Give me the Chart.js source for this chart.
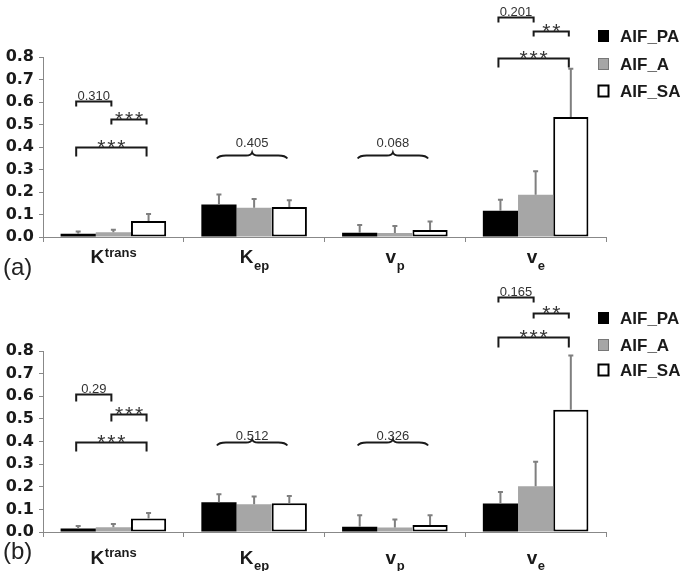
<!DOCTYPE html>
<html>
<head>
<meta charset="utf-8">
<script src="https://cdn.jsdelivr.net/npm/chart.js@4"></script>
<style>
  body { margin: 0; background: #fff; }
  canvas { display: block; }
</style>
</head>
<body>
<canvas id="chartA" width="685" height="286"></canvas>
<canvas id="chartB" width="685" height="285"></canvas>
<script>
// categories and series
const categories = ['Ktrans', 'Kep', 'vp', 've'];
const catMain = ['K', 'K', 'v', 'v'];
const catScript = ['trans', 'ep', 'p', 'e'];
const catSuper = [true, false, false, false];
const seriesNames = ['AIF_PA', 'AIF_A', 'AIF_SA'];
const seriesColors = ['#000000', '#a6a6a6', '#ffffff'];

// panel (a) means and SD
const meanPA_a = [0.015, 0.145, 0.019, 0.117];
const meanA_a  = [0.021, 0.130, 0.018, 0.188];
const meanSA_a = [0.071, 0.133, 0.031, 0.533];
const sdPA_a = [0.010, 0.044, 0.034, 0.049];
const sdA_a  = [0.011, 0.039, 0.031, 0.104];
const sdSA_a = [0.031, 0.030, 0.038, 0.215];

// panel (b) means and SD
const meanPA_b = [0.016, 0.131, 0.023, 0.126];
const meanA_b  = [0.021, 0.123, 0.020, 0.202];
const meanSA_b = [0.060, 0.127, 0.031, 0.540];
const sdPA_b = [0.011, 0.036, 0.051, 0.051];
const sdA_b  = [0.014, 0.034, 0.035, 0.108];
const sdSA_b = [0.024, 0.032, 0.043, 0.240];

// significance marks: category, series from/to, level (axis units), label
const notesA = [
  { cat: 0, from: 0, to: 1, y: 0.603, drop: 5, text: '0.310' },
  { cat: 0, from: 1, to: 2, y: 0.526, drop: 5, text: '***' },
  { cat: 0, from: 0, to: 2, y: 0.398, drop: 9, text: '***' },
  { cat: 1, from: 0, to: 2, y: 0.366, brace: true, text: '0.405' },
  { cat: 2, from: 0, to: 2, y: 0.366, brace: true, text: '0.068' },
  { cat: 3, from: 0, to: 1, y: 0.980, drop: 5, text: '0.201' },
  { cat: 3, from: 1, to: 2, y: 0.914, drop: 5, text: '**' },
  { cat: 3, from: 0, to: 2, y: 0.796, drop: 9, text: '***' }
];
const notesB = [
  { cat: 0, from: 0, to: 1, y: 0.612, drop: 7, text: '0.29' },
  { cat: 0, from: 1, to: 2, y: 0.520, drop: 7, text: '***' },
  { cat: 0, from: 0, to: 2, y: 0.400, drop: 9, text: '***' },
  { cat: 1, from: 0, to: 2, y: 0.398, brace: true, text: '0.512' },
  { cat: 2, from: 0, to: 2, y: 0.398, brace: true, text: '0.326' },
  { cat: 3, from: 0, to: 1, y: 1.040, drop: 5, text: '0.165' },
  { cat: 3, from: 1, to: 2, y: 0.966, drop: 5, text: '**' },
  { cat: 3, from: 0, to: 2, y: 0.863, drop: 10, text: '***' }
];

const panels = {
  chartA: { top: 57, xh: 49, label: '(a)', labelBase: 274.5, legendY: [36, 64, 91], catBase: 26, braceGap: 8.5,
            means: [meanPA_a, meanA_a, meanSA_a], sds: [sdPA_a, sdA_a, sdSA_a], notes: notesA },
  chartB: { top: 65, xh: 39, label: '(b)', labelBase: 273, legendY: [32, 59, 84], catBase: 31.6, braceGap: 2.5,
            means: [meanPA_b, meanA_b, meanSA_b], sds: [sdPA_b, sdA_b, sdSA_b], notes: notesB }
};

function drawBrace(ctx, x1, x2, y) {
  const xm = (x1 + x2) / 2;
  ctx.beginPath();
  ctx.moveTo(x1, y + 3);
  ctx.quadraticCurveTo(x1 + 2, y, x1 + 9, y);
  ctx.lineTo(xm - 6, y);
  ctx.quadraticCurveTo(xm - 1, y, xm, y - 3);
  ctx.quadraticCurveTo(xm + 1, y, xm + 6, y);
  ctx.lineTo(x2 - 9, y);
  ctx.quadraticCurveTo(x2 - 2, y, x2, y + 3);
  ctx.stroke();
}

const decor = {
  id: 'decor',
  afterDatasetsDraw(chart) {
    const p = panels[chart.canvas.id];
    const ctx = chart.ctx;
    const ys = chart.scales.y;
    ctx.save();

    // error bars (upper only)
    ctx.strokeStyle = '#7f7f7f';
    ctx.lineWidth = 2;
    p.means.forEach((m, s) => {
      chart.getDatasetMeta(s).data.forEach((bar, i) => {
        const yTop = ys.getPixelForValue(m[i] + p.sds[s][i]);
        ctx.beginPath();
        ctx.moveTo(bar.x, bar.y);
        ctx.lineTo(bar.x, yTop);
        ctx.moveTo(bar.x - 2.5, yTop);
        ctx.lineTo(bar.x + 2.5, yTop);
        ctx.stroke();
      });
    });

    // brackets and braces
    ctx.strokeStyle = '#1a1a1a';
    ctx.lineWidth = 2;
    ctx.textAlign = 'center';
    ctx.textBaseline = 'alphabetic';
    p.notes.forEach(n => {
      const x1 = chart.getDatasetMeta(n.from).data[n.cat].x - 2;
      const x2 = chart.getDatasetMeta(n.to).data[n.cat].x - 2;
      const y = Math.round(ys.getPixelForValue(n.y)) + 0.5;
      const xm = (x1 + x2) / 2;
      if (n.brace) {
        drawBrace(ctx, x1, x2, y);
        ctx.fillStyle = '#333';
        ctx.font = '13px "Liberation Sans"';
        ctx.fillText(n.text, xm, y - p.braceGap);
        return;
      }
      ctx.beginPath();
      ctx.moveTo(x1, y + n.drop);
      ctx.lineTo(x1, y);
      ctx.lineTo(x2, y);
      ctx.lineTo(x2, y + n.drop);
      ctx.stroke();
      if (n.text[0] === '*') {
        ctx.fillStyle = '#333';
        ctx.font = '21px "Liberation Sans"';
        const k = n.text.length;
        for (let j = 0; j < k; j++) {
          ctx.fillText('*', xm + (j - (k - 1) / 2) * 10, y + 6);
        }
      } else {
        ctx.fillStyle = '#333';
        ctx.font = '13px "Liberation Sans"';
        ctx.fillText(n.text, xm, y - 2);
      }
    });
    ctx.restore();
  },
  afterDraw(chart) {
    const p = panels[chart.canvas.id];
    const ctx = chart.ctx;
    const xs = chart.scales.x;
    const base = chart.chartArea.bottom + p.catBase;
    ctx.save();
    ctx.fillStyle = '#1a1a1a';
    ctx.textBaseline = 'alphabetic';
    ctx.textAlign = 'left';

    // category labels with sub/superscripts
    categories.forEach((c, i) => {
      const cx = xs.getPixelForValue(i);
      ctx.font = 'bold 19px "Liberation Sans"';
      const w1 = ctx.measureText(catMain[i]).width;
      ctx.font = 'bold 13px "Liberation Sans"';
      const w2 = ctx.measureText(catScript[i]).width;
      const x0 = cx - (w1 + w2) / 2;
      ctx.font = 'bold 19px "Liberation Sans"';
      ctx.fillText(catMain[i], x0, base);
      ctx.font = 'bold 13px "Liberation Sans"';
      ctx.fillText(catScript[i], x0 + w1 + 0.5, catSuper[i] ? base - 6.5 : base + 6.5);
    });

    // panel letter
    ctx.fillStyle = '#222';
    ctx.font = '24px "Liberation Sans"';
    ctx.fillText(p.label, 3, p.labelBase);

    // legend
    seriesNames.forEach((name, s) => {
      const yc = p.legendY[s];
      ctx.fillStyle = seriesColors[s];
      ctx.fillRect(598, yc - 6, 11, 12);
      ctx.lineWidth = s === 2 ? 2 : 1;
      ctx.strokeStyle = s === 1 ? '#777' : '#000';
      ctx.strokeRect(598.5, yc - 5.5, 10, 11);
      ctx.fillStyle = '#1a1a1a';
      ctx.font = 'bold 17px "Liberation Sans"';
      ctx.textBaseline = 'middle';
      ctx.fillText(name, 620, yc + 1);
      ctx.textBaseline = 'alphabetic';
    });
    ctx.restore();
  }
};

function makeChart(id) {
  const p = panels[id];
  return new Chart(document.getElementById(id), {
    type: 'bar',
    data: {
      labels: categories,
      datasets: seriesNames.map((name, s) => ({
        label: name,
        data: p.means[s],
        backgroundColor: seriesColors[s],
        borderColor: '#000',
        borderWidth: s === 2 ? 2 : 0,
        borderSkipped: false,
        categoryPercentage: 0.75,
        barPercentage: 1.0
      }))
    },
    options: {
      responsive: false,
      animation: false,
      devicePixelRatio: 1,
      layout: { padding: { top: p.top, right: 79, bottom: 0, left: 0 } },
      plugins: { legend: { display: false }, tooltip: { enabled: false } },
      scales: {
        x: {
          afterFit: s => { s.height = p.xh; },
          ticks: { display: false },
          grid: { offset: true, drawOnChartArea: false, drawTicks: true, tickLength: 5, color: '#888' },
          border: { color: '#888', width: 1 }
        },
        y: {
          min: 0,
          max: 0.8,
          afterFit: s => { s.width = 43; },
          ticks: {
            stepSize: 0.1,
            padding: 5,
            color: '#1a1a1a',
            font: { family: 'DejaVu Sans', weight: 'bold', size: 16 },
            callback: v => v.toFixed(1)
          },
          grid: { drawOnChartArea: false, drawTicks: true, tickLength: 4, color: '#888' },
          border: { color: '#888', width: 1 }
        }
      }
    },
    plugins: [decor]
  });
}

makeChart('chartA');
makeChart('chartB');
</script>
</body>
</html>
